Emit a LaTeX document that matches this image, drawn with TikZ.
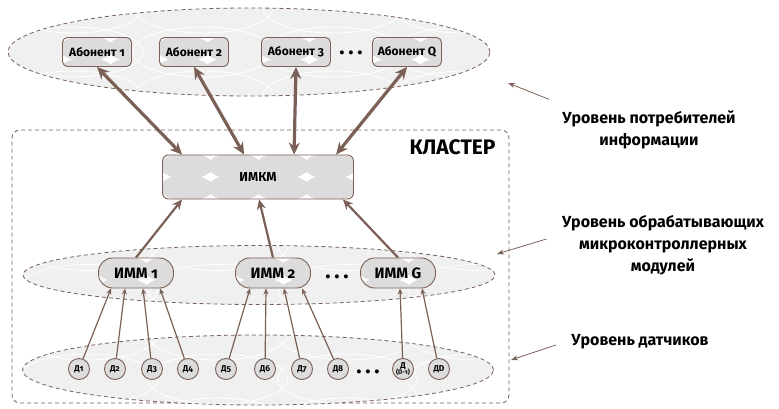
\documentclass[tikz,border=0pt]{standalone}
\usepackage{fontspec}
\setmainfont{Fira Sans}[Numbers=OldStyle]
\usetikzlibrary{arrows.meta,positioning,shapes.geometric}
\definecolor{brn}{RGB}{122,96,86}
\definecolor{cellgray}{RGB}{220,220,220}
\definecolor{fieldgray}{RGB}{240,240,240}
\tikzset{
  cellfill/.style={fill=white,path picture={
      \foreach \i in {0,...,8}{\foreach \j in {0,...,2}{
        \fill[cellgray] ([shift={(\i*48+24,\j*22+11)}]path picture bounding box.north west)
          ellipse [x radius=27,y radius=13];}}}},
  fieldfill/.style={fill=fieldgray,path picture={
      \foreach \i in {0,...,4}{\foreach \j in {0,...,2}{
        \draw[white,solid,line width=0.8pt] ([shift={(\i*130+65,\j*44)}]path picture bounding box.north west)
          ellipse [x radius=70,y radius=25];}}}},
  dashline/.style={draw=brn,line width=0.8pt,dash pattern=on 4pt off 3pt},
  level/.style={ellipse,dashline,fieldfill},
  abon/.style={draw=brn,line width=0.9pt,cellfill,rounded corners=5pt,minimum width=69pt,minimum height=29pt,
    inner sep=1pt,font=\bfseries\fontsize{12}{12}\selectfont},
  imm/.style={draw=brn,line width=0.9pt,cellfill,rounded corners=14pt,minimum width=75pt,minimum height=30pt,
    inner sep=1pt,font=\bfseries\fontsize{15}{15}\selectfont},
  sensor/.style={circle,draw=brn,line width=0.9pt,fill=cellgray,minimum size=21pt,inner sep=0pt,
    font=\bfseries\fontsize{8.5}{8.5}\selectfont},
  lbl/.style={align=center,font=\bfseries\fontsize{16}{22}\selectfont},
  dotsrow/.style={font=\bfseries\fontsize{22}{22}\selectfont},
  mainarrow/.style={brn,line width=3.2pt,{Stealth[length=12pt,width=11pt]}-{Stealth[length=12pt,width=11pt]}},
  midarrow/.style={brn,line width=2.2pt,-{Stealth[length=10pt,width=9pt]}},
  sensorarrow/.style={brn,line width=1.2pt,-{Stealth[length=6pt,width=5pt]}},
  notearrow/.style={brn,line width=0.8pt,-{Stealth[length=7pt,width=5pt]}}
}
\begin{document}
\begin{tikzpicture}[x=1pt,y=-1pt]
\useasboundingbox (0,0) rectangle (779,409);
% levels
\node[level,minimum width=482pt,minimum height=88pt] (users) at (249,52) {};
\node[dashline,rounded corners=8pt,minimum width=497pt,minimum height=273pt] (cluster) at (260.5,266.5) {};
\node[level,minimum width=472pt,minimum height=59pt] (modules) at (259,275) {};
\node[level,minimum width=471pt,minimum height=70pt] (sensors) at (258,370) {};
\node[anchor=east,font=\bfseries\fontsize{21}{21}\selectfont] (clustername) at (499,147) {КЛАСТЕР};
% subscribers
\node[abon] (ab1) at (97,52) {Абонент 1};
\node[abon] (ab2) at (194,52) {Абонент 2};
\node[abon] (ab3) at (296,52) {Абонент 3};
\node[abon] (abQ) at (407,52) {Абонент Q};
\node[dotsrow] (abdots) at (351,53) {.\,.\,.};
% cluster head
\node[draw=brn,line width=0.9pt,cellfill,rounded corners=6pt,minimum width=191pt,minimum height=44pt,
  font=\bfseries\fontsize{13}{13}\selectfont] (imkm) at (258,177) {ИМКМ};
% modules
\node[imm] (imm1) at (136,273) {ИММ 1};
\node[imm] (imm2) at (273,273) {ИММ 2};
\node[imm] (immG) at (398,273) {ИММ G};
\node[dotsrow] (immdots) at (337,277) {.\,.\,.};
% sensors
\foreach \x/\n/\t in {79/1/Д1,115/2/Д2,152/3/Д3,188/4/Д4,226/5/Д5,265/6/Д6,302/7/Д7,338/8/Д8,439/D/ДD}
  \node[sensor] (d\n) at (\x,369) {\t};
\node[sensor,align=center] (dm) at (403,369) {Д\\[-2pt]{\fontsize{6.5}{6.5}\selectfont(D-1)}};
\node[dotsrow] (ddots) at (368,372) {.\,.\,.};
% links
\draw[mainarrow] ([xshift=20]imkm.north west) -- (ab1.south);
\draw[mainarrow] ([xshift=82]imkm.north west) -- (ab2.south);
\draw[mainarrow] ([xshift=132]imkm.north west) -- (ab3.south);
\draw[mainarrow] ([xshift=174]imkm.north west) -- (abQ.south);
\draw[midarrow] (imm1.north) -- ([xshift=20]imkm.south west);
\draw[midarrow] (imm2.north) -- ([xshift=97]imkm.south west);
\draw[midarrow] (immG.north) -- ([xshift=-11]imkm.south east);
\foreach \d/\m/\s in {1/imm1/-25,2/imm1/-11,3/imm1/7,4/imm1/24,5/imm2/-23,6/imm2/-7,7/imm2/11,8/imm2/29,m/immG/2,D/immG/24}
  \draw[sensorarrow] (d\d) -- ([xshift=\s]\m.south);
% level labels
\node[lbl] (lblusers) at (649,130) {Уровень потребителей\\информации};
\node[lbl] (lblmodules) at (663,245) {Уровень обрабатывающих\\микроконтроллерных\\модулей};
\node[lbl] (lblsensors) at (640,342) {Уровень датчиков};
\coordinate (userstip) at (508,83);
\coordinate (modulestip) at (497,254);
\coordinate (sensorstip) at (511,360);
\draw[notearrow] ([shift={(-10,-8)}]lblusers.north west) -- (userstip);
\draw[notearrow] ([shift={(-12,-6)}]lblmodules.west) -- (modulestip);
\draw[notearrow] ([shift={(-12,3)}]lblsensors.west) -- (sensorstip);
\end{tikzpicture}
\end{document}
